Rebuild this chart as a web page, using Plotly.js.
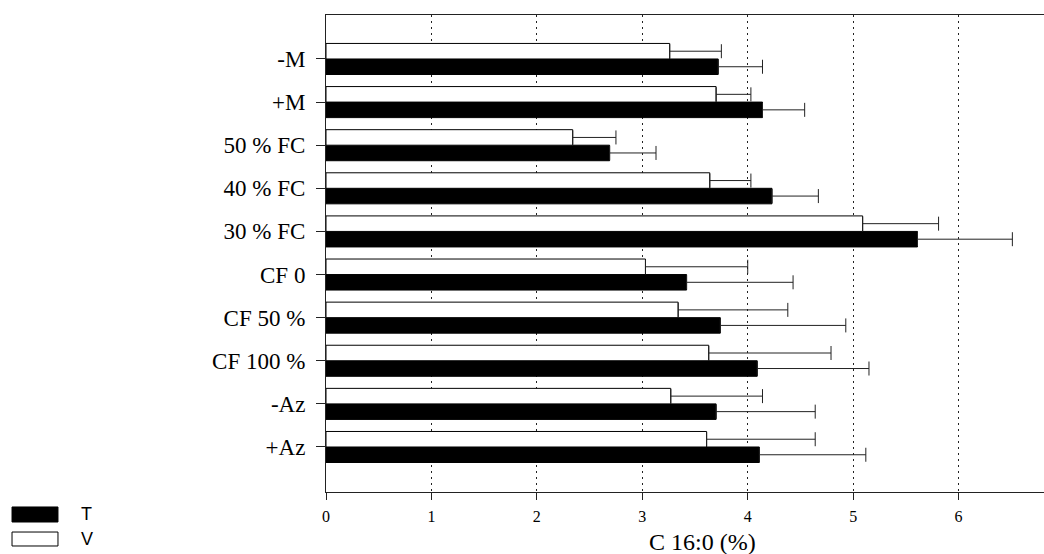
<!DOCTYPE html>
<html>
<head>
<meta charset="utf-8">
<script src="https://cdn.plot.ly/plotly-3.0.1.min.js"></script>
<style>html,body{margin:0;padding:0;background:#fff;}#chart{width:1044px;height:554px;}</style>
</head>
<body>
<div id="chart"></div>
<script>
// Categories, top to bottom as shown
const categories = ["-M", "+M", "50 % FC", "40 % FC", "30 % FC", "CF 0", "CF 50 %", "CF 100 %", "-Az", "+Az"];
// C 16:0 (%) values
const valuesT = [3.72, 4.14, 2.69, 4.23, 5.61, 3.42, 3.74, 4.09, 3.70, 4.11];
const errorsT = [0.42, 0.40, 0.44, 0.44, 0.90, 1.01, 1.19, 1.06, 0.94, 1.01];
const valuesV = [3.26, 3.70, 2.34, 3.64, 5.09, 3.03, 3.34, 3.63, 3.27, 3.61];
const errorsV = [0.49, 0.33, 0.41, 0.39, 0.72, 0.97, 1.04, 1.16, 0.87, 1.03];
const xTicks = [0, 1, 2, 3, 4, 5, 6];
const seriesNames = ["T", "V"];
const xTitle = "C 16:0 (%)";

const zeros = categories.map(() => 0);
const errStyle = {type: 'data', symmetric: false, visible: true, color: '#222', thickness: 1, width: 7};

const traceT = {
  type: 'bar', orientation: 'h', name: seriesNames[0],
  y: categories, x: valuesT,
  marker: {color: '#000', line: {color: '#000', width: 1}},
  error_x: Object.assign({array: errorsT, arrayminus: zeros}, errStyle),
  showlegend: false, hoverinfo: 'x+y'
};
const traceV = {
  type: 'bar', orientation: 'h', name: seriesNames[1],
  y: categories, x: valuesV,
  marker: {color: '#fff', line: {color: '#000', width: 1}},
  error_x: Object.assign({array: errorsV, arrayminus: zeros}, errStyle),
  showlegend: false, hoverinfo: 'x+y'
};

const serif = 'Liberation Serif, Times New Roman, serif';
const sans = 'Liberation Sans, Arial, sans-serif';

// legend drawn as wide swatches (paper coordinates)
const legendShapes = [
  {type: 'rect', xref: 'paper', yref: 'paper', x0: -0.4373, x1: -0.3733, y0: -0.0314, y1: -0.0629,
   fillcolor: '#000', line: {color: '#000', width: 1}},
  {type: 'rect', xref: 'paper', yref: 'paper', x0: -0.4373, x1: -0.3733, y0: -0.0839, y1: -0.1132,
   fillcolor: '#fff', line: {color: '#000', width: 1}}
];
const annotations = [
  {xref: 'paper', yref: 'paper', x: -0.344, y: -0.0471, text: seriesNames[0], showarrow: false,
   xanchor: 'left', yanchor: 'middle', font: {family: sans, size: 18, color: '#000'}},
  {xref: 'paper', yref: 'paper', x: -0.344, y: -0.0985, text: seriesNames[1], showarrow: false,
   xanchor: 'left', yanchor: 'middle', font: {family: sans, size: 18, color: '#000'}},
  {xref: 'paper', yref: 'paper', x: 0.524, y: -0.1048, text: xTitle, showarrow: false,
   xanchor: 'center', yanchor: 'middle', font: {family: serif, size: 24, color: '#000'}}
];

const layout = {
  width: 1044, height: 554,
  margin: {l: 326, r: 0, t: 15, b: 62, pad: 0},
  paper_bgcolor: '#fff', plot_bgcolor: '#fff',
  barmode: 'group', bargap: 0.28, bargroupgap: 0,
  showlegend: false,
  xaxis: {
    range: [0, 6.81], tickvals: xTicks, ticktext: xTicks.map(String),
    showline: true, linecolor: '#222', linewidth: 1, mirror: true,
    ticks: 'outside', ticklen: 7, tickcolor: '#222', tickwidth: 1,
    ticklabelstandoff: 3,
    showgrid: true, gridcolor: '#222', gridwidth: 1, griddash: '2px,4px',
    zeroline: false,
    tickfont: {family: serif, size: 16, color: '#000'}
  },
  yaxis: {
    type: 'category', categoryorder: 'array', categoryarray: categories.slice().reverse(),
    range: [-1.044, 10.02],
    showline: true, linecolor: '#222', linewidth: 1,
    ticks: 'outside', ticklen: 9, tickcolor: '#222', tickwidth: 1,
    ticklabelstandoff: 6,
    showgrid: false, zeroline: false,
    tickfont: {family: serif, size: 23, color: '#000'}
  },
  shapes: legendShapes,
  annotations: annotations
};

Plotly.newPlot('chart', [traceT, traceV], layout, {displayModeBar: false, staticPlot: true});
</script>
</body>
</html>
